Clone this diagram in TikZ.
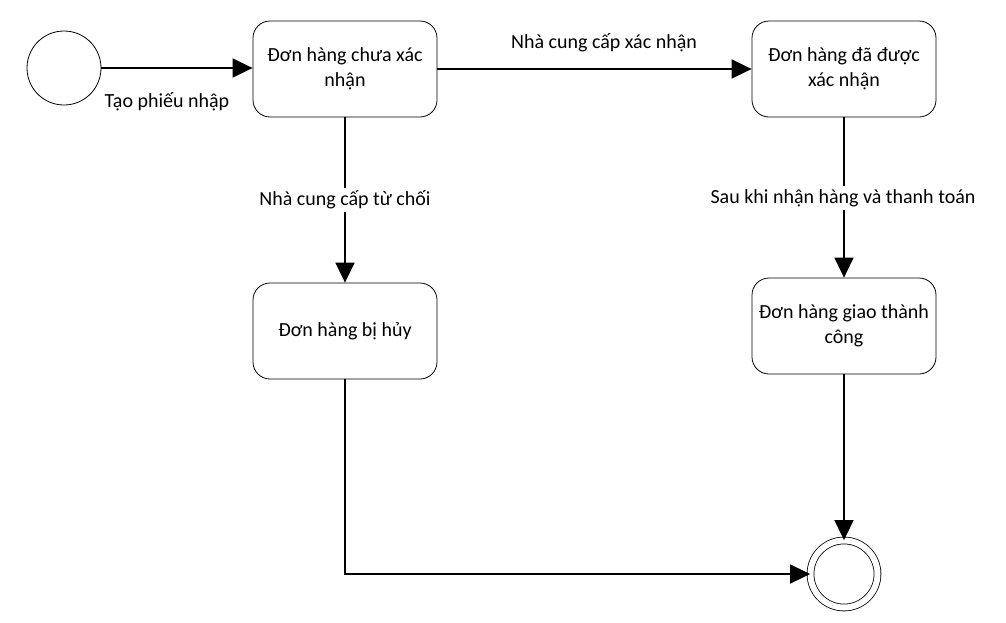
\documentclass[tikz,border=0pt]{standalone}
\usepackage{fontspec}
\setmainfont{Carlito}
\usetikzlibrary{arrows.meta, positioning}

\begin{document}
\begin{tikzpicture}[x=1pt, y=-1pt,
        every node/.style={font=\fontsize{20}{25}\selectfont},
        state/.style={rectangle, draw, line width=0.8pt, rounded corners=17pt,
            minimum width=184pt, minimum height=96pt, align=center},
        flow/.style={line width=1.6pt, -{Triangle[length=20pt, width=19pt]}},
        lbl/.style={fill=white, inner sep=3pt}]
        \useasboundingbox (0, 0) rectangle (1006, 622);

        \node[circle, draw, line width=0.8pt, minimum size=74pt] (start) at (64, 68) {};
        \node[state] (choxn) at (345, 69) {Đơn hàng chưa xác\\nhận};
        \node[state] (daxn) at (844, 69) {Đơn hàng đã được\\xác nhận};
        \node[state] (huy) at (345, 331) {Đơn hàng bị hủy};
        \node[state] (giao) at (844, 326) {Đơn hàng giao thành\\công};
        \node[circle, draw, double, double distance=6pt, line width=0.8pt,
            minimum size=67pt] (end) at (844, 574) {};

        \draw[flow] (start.east |- 0, 68) -- (choxn.west |- 0, 68);
        \draw[flow] (choxn) -- (daxn);
        \draw[flow] (choxn) -- (huy);
        \draw[flow] (daxn) -- (giao);
        \draw[flow] (giao) -- (end);
        \draw[flow] (huy.south) |- (end.west);

        \node (tao) at (167, 102) {Tạo phiếu nhập};
        \node (xacnhan) at (604, 43) {Nhà cung cấp xác nhận};
        \node[lbl] (tuchoi) at (345, 200) {Nhà cung cấp từ chối};
        \node[lbl] (thanhtoan) at (843, 198) {Sau khi nhận hàng và thanh toán};
    \end{tikzpicture}
\end{document}
